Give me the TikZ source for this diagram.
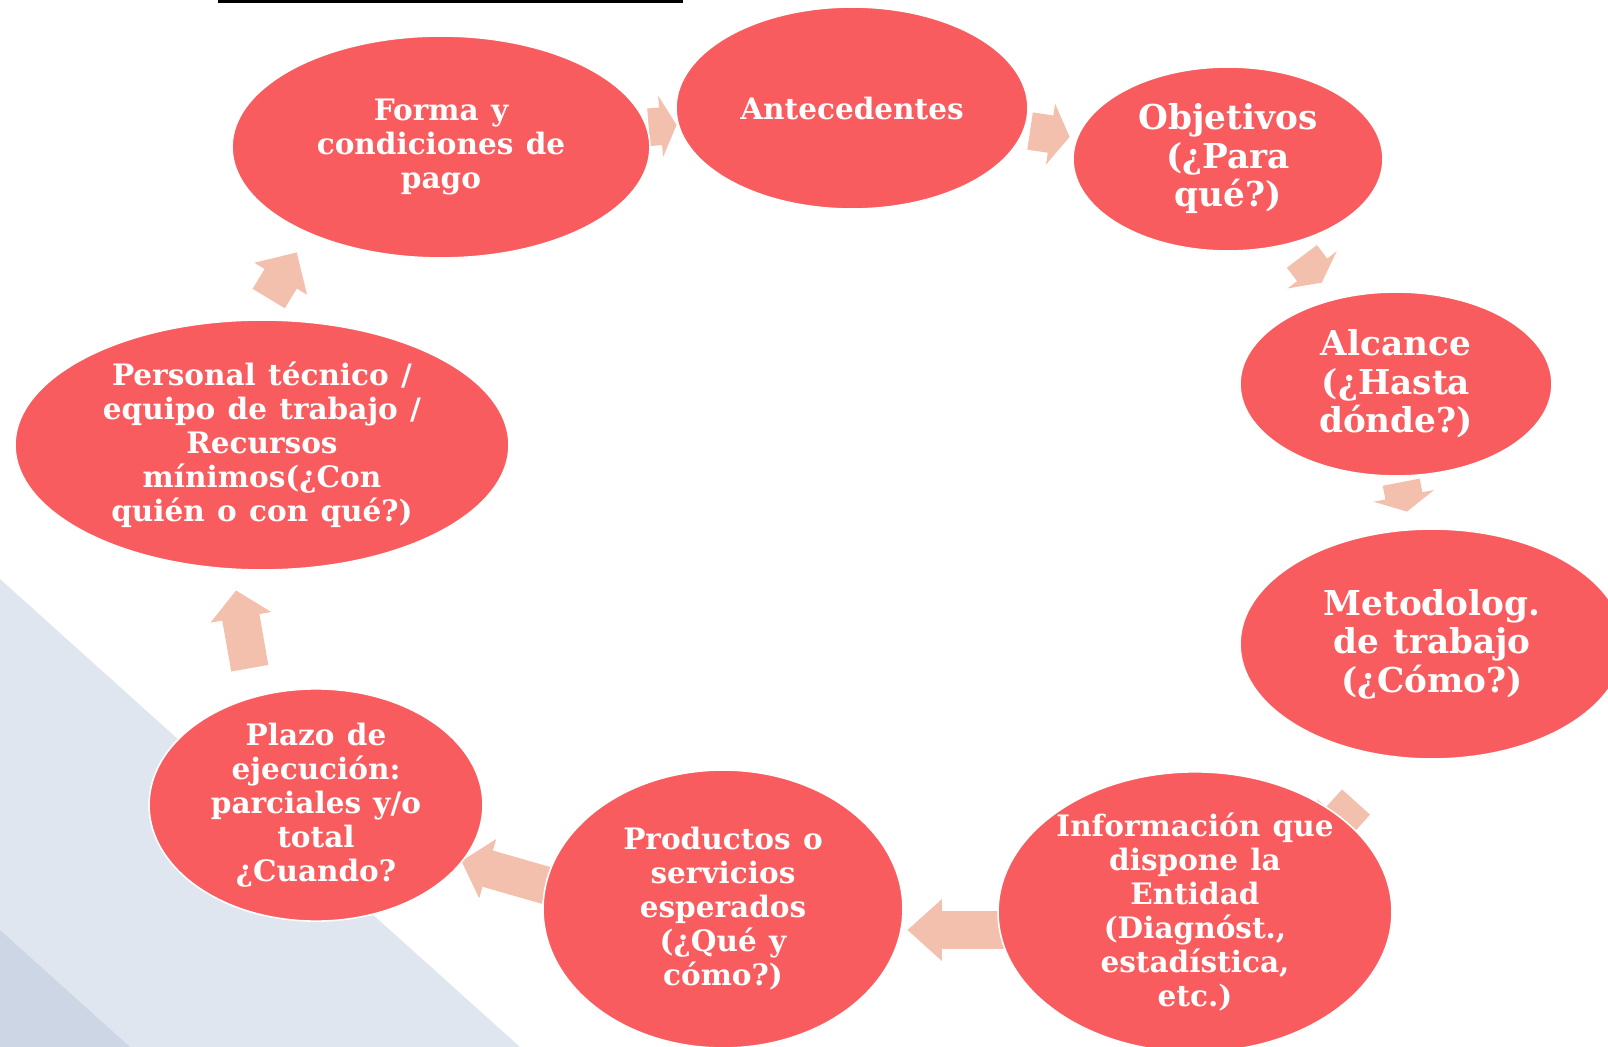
\documentclass[tikz,border=0pt]{standalone}
\usepackage{fontspec}
\setmainfont{DejaVu Serif}[WordSpace=1.2]
\usetikzlibrary{backgrounds, shapes.geometric, shapes.arrows}

\definecolor{stagered}{RGB}{249,92,95}
\definecolor{flowpink}{RGB}{244,192,174}
\definecolor{bandblue}{RGB}{224,230,240}
\definecolor{banddark}{RGB}{205,214,228}

\newcommand{\smalltxt}{\fontsize{16.8}{19.35}\selectfont\bfseries}
\newcommand{\bigtxt}{\fontsize{19.5}{21.9}\selectfont\bfseries}

\tikzset{
	stage/.style={ellipse, fill=stagered, draw=white, line width=0.9pt,
		text=white, align=center, inner sep=0pt, font=\smalltxt},
	bigstage/.style={stage, font=\bigtxt},
	flow/.style={single arrow, fill=flowpink, inner xsep=0pt, inner ysep=0.37cm,
		anchor=tip, single arrow head extend=0.24cm,
		single arrow tip angle=97},
	stubflow/.style={flow, single arrow tip angle=125}
}

\begin{document}
\begin{tikzpicture}[x=0.02cm, y=-0.02cm]
					\useasboundingbox (0,0) rectangle (1608,1047);
					\clip (0,0) rectangle (1608,1047);

					% fondo
					\fill[bandblue] (0,579) -- (520,1047) -- (0,1047) -- cycle;
					\fill[banddark] (0,930) -- (130,1047) -- (0,1047) -- cycle;
					\draw[line width=2.2pt] (218,1) -- (683,1);

					% flechas
					\node[stubflow, rotate=4.6, minimum height=0.56cm] (f1) at (677,125) {};
					\node[stubflow, rotate=-8.5, minimum height=0.8cm, single arrow tip angle=116] (f2) at (1070,137) {};
					\node[stubflow, rotate=-53, minimum height=0.66cm] (f3) at (1322,283) {};
					\node[stubflow, rotate=-79, minimum height=0.6cm] (f4) at (1407,512) {};
					\node[stubflow, rotate=228, minimum height=0.8cm] (f5) at (1329,832) {};
					\node[flow, rotate=180, minimum height=2.12cm, single arrow tip angle=84] (f6) at (907,930) {};
					\node[flow, rotate=164, minimum height=1.78cm] (f7) at (461,861) {};
					\node[flow, rotate=100, minimum height=1.58cm] (f8) at (236,590) {};
					\node[flow, rotate=58.7, minimum height=1.08cm, single arrow tip angle=90] (f9) at (297,252) {};

					% etapas
					\node[stage, minimum width=8.36cm, minimum height=4.44cm] (forma) at (441,147)
						{Forma y\\condiciones de\\pago};
					\node[stage, minimum width=7.04cm, minimum height=4.04cm] (antec) at (852,108)
						{Antecedentes};
					\node[bigstage, minimum width=6.2cm, minimum height=3.68cm] (objet) at (1228,159)
						{Objetivos\\(¿Para\\qué?)};
					\node[bigstage, minimum width=6.24cm, minimum height=3.68cm] (alcan) at (1396,384)
						{Alcance\\(¿Hasta\\dónde?)};
					\node[bigstage, minimum width=7.68cm, minimum height=4.6cm] (metod) at (1432,644)
						{Metodolog.\\de trabajo\\(¿Cómo?)};
					\node[stage, minimum width=7.88cm, minimum height=4.96cm] (infor) at (1195,912)
						{Información que\\dispone la\\Entidad\\(Diagnóst.,\\estadística,\\etc.)};
					\node[stage, minimum width=7.2cm, minimum height=5.56cm] (produ) at (723,909)
						{Productos o\\servicios\\esperados\\(¿Qué y\\cómo?)};
					\node[stage, minimum width=6.68cm, minimum height=4.44cm] (plazo) at (316,805)
						{Plazo de\\ejecución:\\parciales y/o\\total\\¿Cuando?};
					\node[stage, minimum width=9.88cm, minimum height=5.0cm] (perso) at (262,445)
						{Personal técnico /\\equipo de trabajo /\\Recursos\\mínimos(¿Con\\quién o con qué?)};
				\end{tikzpicture}
\end{document}
